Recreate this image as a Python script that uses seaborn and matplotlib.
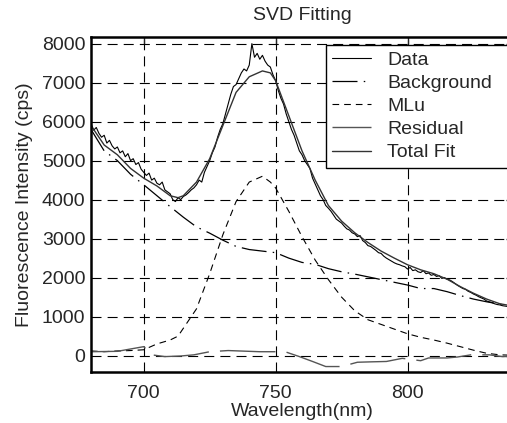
import numpy as np
import pandas as pd
import matplotlib
matplotlib.use("Agg")
import matplotlib.pyplot as plt
import seaborn as sns

# ---- data ----
data_wl = list(range(680, 841))
data_cps = [5950, 5780, 5850, 5700, 5600, 5650, 5450, 5520, 5380, 5300,
            5350, 5200, 5250, 5100, 5180, 5000, 5050, 4900, 4950, 4780,
            4700, 4620, 4680, 4500, 4550, 4420, 4380, 4450, 4250, 4200,
            4150, 4000, 3950, 4050, 4000, 4080, 4120, 4180, 4250, 4300,
            4380, 4500, 4450, 4700, 4850, 5000, 5200, 5350, 5600, 5800,
            5950, 6200, 6450, 6700, 6900, 6950, 7100, 7250, 7350, 7300,
            7450, 8000, 7650, 7750, 7600, 7700, 7550, 7450, 7400, 7200,
            7050, 6800, 6600, 6450, 6200, 6000, 5800, 5650, 5450, 5250,
            5150, 5000, 4900, 4800, 4550, 4400, 4250, 4100, 4000, 3850,
            3780, 3700, 3600, 3500, 3450, 3400, 3320, 3250, 3220, 3150,
            3120, 3050, 3080, 2950, 2900, 2820, 2800, 2750, 2700, 2640,
            2620, 2550, 2500, 2460, 2420, 2380, 2350, 2330, 2300, 2280,
            2220, 2260, 2180, 2200, 2150, 2130, 2180, 2100, 2120, 2060,
            2080, 2030, 2050, 1980, 2000, 1960, 1940, 1900, 1850, 1800,
            1760, 1720, 1700, 1650, 1620, 1580, 1550, 1510, 1480, 1450,
            1400, 1380, 1360, 1330, 1310, 1300, 1280, 1270, 1260, 1250,
            1240]

bg_wl = [680, 685, 690, 695, 700, 705, 710, 715, 720, 725, 730, 735, 740,
         745, 750, 755, 760, 765, 770, 775, 780, 785, 790, 795, 800, 805,
         810, 815, 820, 825, 830, 835, 840]
bg_cps = [5800, 5250, 5000, 4650, 4380, 4100, 3820, 3550, 3300, 3140, 2960,
          2800, 2720, 2680, 2640, 2500, 2390, 2340, 2230, 2150, 2090, 2020,
          1950, 1880, 1810, 1720, 1720, 1640, 1540, 1450, 1380, 1320, 1260]

mlu_wl = [680, 685, 690, 695, 700, 705, 710, 713, 715, 720, 725, 730, 735,
          740, 745, 748, 750, 755, 760, 765, 770, 775, 780, 785, 790, 795,
          800, 805, 810, 815, 820, 825, 830, 835, 840]
mlu_cps = [120, 100, 120, 130, 150, 300, 400, 500, 700, 1200, 2100, 3100,
           3950, 4450, 4600, 4450, 4300, 3700, 3050, 2450, 1950, 1500, 1150,
           920, 800, 680, 560, 470, 400, 320, 230, 140, 60, 20, 10]

res_wl = [680, 690, 700, 703, 708, 714, 719, 725, 732, 744, 750, 754, 759,
          764, 769, 775, 781, 786, 792, 798, 805, 808, 815, 819, 824, 831,
          836, 840]
res_cps = [100, 110, 230, 20, -25, -10, 20, 100, 130, 100, 100, 90, -25,
           -150, -280, -280, -170, -160, -150, -70, -130, -60, -60, -35, 20,
           20, -25, -20]

fit_wl = [680, 685, 690, 695, 700, 705, 710, 713, 715, 720, 725, 730, 735,
          740, 745, 748, 750, 755, 760, 765, 770, 775, 780, 785, 790, 795,
          800, 805, 810, 815, 820, 825, 830, 835, 840]
fit_cps = [5900, 5400, 5150, 4800, 4550, 4350, 4100, 4050, 4100, 4450, 5050,
           5900, 6750, 7150, 7300, 7250, 7050, 6150, 5250, 4500, 3850, 3450,
           3150, 2900, 2680, 2500, 2330, 2200, 2100, 1960, 1770, 1600, 1450,
           1330, 1270]

x_ticks = [700, 750, 800]
y_ticks = [0, 1000, 2000, 3000, 4000, 5000, 6000, 7000, 8000]

# ---- style ----
sns.set_style("white")
plt.rcParams['font.family'] = ['Liberation Sans', 'DejaVu Sans']
plt.rcParams['font.size'] = 14

fig = plt.figure(figsize=(5.07, 4.23), dpi=100)
ax = fig.add_axes([91 / 507, 1 - 372 / 423, 422 / 507, 335 / 423])

sns.lineplot(x=data_wl, y=data_cps, ax=ax, color='black', lw=0.8,
             label='Data', estimator=None, sort=False)
sns.lineplot(x=bg_wl, y=bg_cps, ax=ax, color='black', lw=0.9,
             label='Background', estimator=None, sort=False)
sns.lineplot(x=mlu_wl, y=mlu_cps, ax=ax, color='black', lw=0.8,
             label='MLu', estimator=None, sort=False)
sns.lineplot(x=res_wl, y=res_cps, ax=ax, color='#555555', lw=1.0,
             label='Residual', estimator=None, sort=False)
sns.lineplot(x=fit_wl, y=fit_cps, ax=ax, color='#333333', lw=1.0,
             label='Total Fit', estimator=None, sort=False)

lines = ax.get_lines()
lines[1].set_dashes((20, 5, 1.2, 5))
lines[2].set_dashes((6, 4.5))
lines[3].set_dashes((40, 8))

ax.set_xlim(680, 840)
ax.set_ylim(-420, 8170)
ax.set_xticks(x_ticks)
ax.set_yticks(y_ticks)
ax.grid(True, color='black', linestyle=(0, (9, 5.5)), linewidth=0.8)
ax.tick_params(direction='in', length=5, width=1, top=True, right=True,
               labelsize=14, pad=4)
ax.tick_params(axis='x', pad=9)
for s in ax.spines.values():
    s.set_visible(True)
    s.set_color('black')
    s.set_linewidth(1.8)

ax.set_xlabel('Wavelength(nm)', fontsize=14, labelpad=1)
ax.set_ylabel('Fluorescence Intensity (cps)', fontsize=14, labelpad=6)
ax.set_title('SVD Fitting', fontsize=14, pad=12)

leg = ax.legend(loc='upper left', bbox_to_anchor=(0.556, 0.977, 0.47, 0.0),
                mode='expand',
                fontsize=14, frameon=True, fancybox=False, framealpha=1,
                edgecolor='black', borderaxespad=0, handlelength=2.0,
                labelspacing=0.28, borderpad=0.35)
leg.get_frame().set_linewidth(1.0)

fig.savefig('out.png', dpi=100)
